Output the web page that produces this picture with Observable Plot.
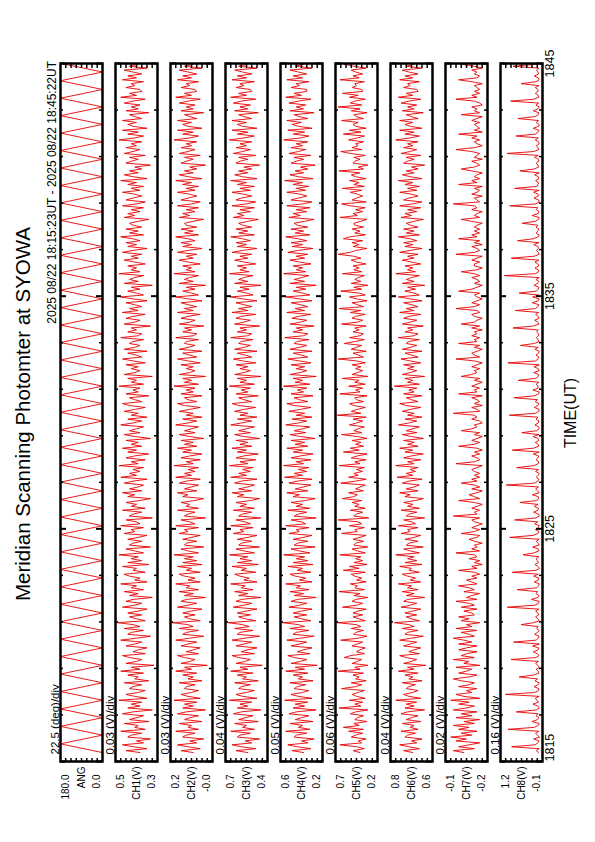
<!DOCTYPE html>
<html><head><meta charset="utf-8">
<script src="https://cdn.jsdelivr.net/npm/d3@7"></script>
<script src="https://cdn.jsdelivr.net/npm/@observablehq/plot@0.6"></script>
<style>
html,body{margin:0;padding:0;background:#fff;width:595px;height:842px;overflow:hidden;}
#land{position:absolute;left:0;top:0;width:842px;height:595px;transform-origin:0 0;transform:translate(0,842px) rotate(-90deg);font-family:"Liberation Sans",Arial,Helvetica,sans-serif;color:#000;}
.lbl{position:absolute;white-space:nowrap;}
</style></head><body><div id="land"></div>
<script>
// ---- data (time in seconds after 18:15:00 UT) ----
const title = "Meridian Scanning Photomter at SYOWA";
const subtitle = "2025 08/22 18:15:23UT - 2025 08/22 18:45:22UT";
const xTitle = "TIME(UT)";
const startSec = 23;        // 18:15:23
const angStep = 22.5;       // s between scan turning points
const chStep = 5;           // s between channel samples
const majorTicks = [0, 600, 1200, 1800];
const tickLabels = ["1815", "1825", "1835", "1845"];
const minorTicks = [120, 240, 360, 480, 720, 840, 960, 1080, 1320, 1440, 1560, 1680];

const names = ["ANG", "CH1(V)", "CH2(V)", "CH3(V)", "CH4(V)", "CH5(V)", "CH6(V)", "CH7(V)", "CH8(V)"];
const divLabels = ["22.5 (deg)/div", "0.03 (V)/div", "0.03 (V)/div", "0.04 (V)/div", "0.05 (V)/div", "0.06 (V)/div", "0.04 (V)/div", "0.02 (V)/div", "0.16 (V)/div"];
const topLabels = ["180.0", "0.5", "0.2", "0.7", "0.6", "0.7", "0.8", "-0.1", "1.2"];
const bottomLabels = ["0.0", "0.3", "-0.0", "0.4", "0.2", "0.2", "0.6", "-0.2", "-0.1"];
const perDiv = [22.5, 0.03, 0.03, 0.04, 0.05, 0.06, 0.04, 0.02, 0.16];
const yMin = [0, 0.27, -0.04, 0.40, 0.20, 0.22, 0.52, -0.23, -0.08];

const ang = [0,180,0,180,0,180,0,180,0,180,0,180,0,180,0,180,0,180,0,180,
0,180,0,180,0,180,0,180,0,180,0,180,0,180,0,180,0,180,0,180,
0,180,0,180,0,180,0,180,0,180,0,180,0,180,0,180,0,180,0,180,
0,180,0,180,0,180,0,180,0,180,0,180,0,180,0,180,0,180,0,180,0];

const ch1 = [.37,.45,.33,.41,.47,.35,.39,.31,.44,.42,.36,.48,.34,.40,.38,.46,.32,.43,
.39,.35,.47,.41,.30,.44,.37,.42,.36,.49,.33,.40,.45,.38,.34,.43,.41,.36,
.46,.32,.40,.38,.44,.35,.48,.37,.42,.29,.45,.39,.36,.43,.47,.34,.41,.38,
.33,.45,.40,.36,.48,.39,.31,.44,.42,.35,.46,.37,.41,.50,.34,.39,.43,.36,
.44,.38,.33,.47,.40,.36,.45,.41,.30,.43,.38,.46,.35,.42,.39,.48,.33,.40,
.37,.43,.46,.34,.41,.39,.47,.32,.44,.36,.42,.38,.49,.35,.40,.45,.31,.43,
.41,.36,.44,.38,.33,.46,.40,.42,.35,.48,.37,.39,.45,.30,.43,.41,.36,.47,
.34,.42,.39,.45,.37,.31,.44,.40,.47,.36,.43,.38,.35,.46,.41,.33,.48,.39,
.43,.37,.41,.35,.49,.38,.42,.34,.45,.40,.32,.44,.39,.47,.36,.42,.38,.45,
.31,.40,.46,.37,.43,.39,.35,.48,.41,.36,.44,.33,.42,.38,.46,.40,.34,.43,
.47,.36,.40,.43,.32,.45,.38,.41,.37,.49,.35,.42,.39,.44,.30,.46,.40,.37,
.42,.38,.45,.34,.41,.47,.36,.39,.44,.33,.46,.40,.37,.43,.41,.35,.48,.38,
.36,.44,.39,.42,.31,.46,.40,.37,.45,.41,.34,.47,.38,.43,.36,.40,.45,.33,
.41,.48,.35,.39,.44,.37,.42,.30,.46,.38,.43,.40,.35,.49,.37,.42,.39,.44,
.34,.40,.46,.38,.42,.36,.47,.41,.33,.44,.39,.45,.37,.41,.48,.35,.43,.38,
.45,.36,.41,.43,.38,.32,.46,.40,.44,.37,.42,.35,.47,.39,.34,.45,.41,.36,
.40,.47,.37,.42,.35,.44,.39,.48,.33,.41,.46,.38,.43,.36,.40,.31,.45,.42,
.38,.43,.34,.46,.41,.37,.45,.39,.42,.36,.49,.40,.35,.44,.38,.47,.33,.41,
.44,.39,.47,.36,.40,.43,.32,.45,.38,.42,.37,.46,.41,.34,.48,.39,.43,.36,
.37,.45,.40,.42,.35,.47,.39,.44,.36,.41,.46,.33,.43,.38,.45,.40,.37,.42];

const ch2 = [.07,.14,.03,.10,.16,.05,.09,.01,.13,.11,.06,.17,.04,.10,.08,.15,.02,.12,
.09,.04,.16,.11,.00,.13,.07,.12,.05,.18,.03,.10,.14,.08,.04,.12,.11,.06,
.15,.02,.10,.07,.13,.05,.17,.08,.12,-.01,.14,.09,.06,.12,.16,.04,.11,.07,
.03,.14,.10,.05,.17,.09,.01,.13,.11,.04,.15,.07,.10,.19,.03,.09,.12,.06,
.13,.08,.02,.16,.10,.05,.14,.11,.00,.12,.07,.15,.04,.11,.09,.17,.03,.10,
.06,.12,.15,.03,.11,.08,.16,.02,.13,.05,.12,.07,.18,.04,.10,.14,.01,.12,
.11,.05,.13,.08,.03,.15,.10,.12,.04,.17,.06,.09,.14,.00,.12,.10,.06,.16,
.04,.11,.09,.14,.06,.01,.13,.10,.16,.05,.12,.08,.04,.15,.11,.03,.17,.08,
.12,.06,.10,.04,.18,.07,.11,.03,.14,.09,.02,.13,.08,.16,.05,.12,.07,.14,
.01,.09,.15,.06,.12,.08,.04,.17,.10,.05,.13,.02,.11,.07,.15,.09,.03,.12,
.16,.05,.10,.12,.02,.14,.07,.11,.06,.18,.04,.12,.08,.13,.00,.15,.09,.06,
.11,.07,.14,.03,.10,.16,.05,.09,.13,.02,.15,.10,.06,.12,.11,.04,.17,.07,
.05,.13,.08,.12,.01,.15,.09,.06,.14,.10,.03,.16,.07,.12,.05,.10,.14,.02,
.10,.17,.04,.08,.13,.06,.11,.00,.15,.07,.12,.09,.04,.18,.06,.11,.08,.13,
.03,.10,.15,.07,.11,.05,.16,.10,.02,.13,.08,.14,.06,.10,.17,.04,.12,.07,
.14,.05,.11,.12,.07,.01,.15,.09,.13,.06,.11,.04,.16,.08,.03,.14,.10,.05,
.09,.16,.06,.11,.04,.13,.08,.17,.02,.10,.15,.07,.12,.05,.09,.00,.14,.11,
.07,.12,.03,.15,.10,.06,.14,.08,.11,.05,.18,.09,.04,.13,.07,.16,.02,.10,
.13,.08,.16,.05,.09,.12,.01,.14,.07,.11,.06,.15,.10,.03,.17,.08,.12,.05,
.06,.14,.09,.11,.04,.16,.08,.13,.05,.10,.15,.02,.12,.07,.14,.09,.06,.11];

const ch3 = [.55,.64,.49,.60,.67,.52,.57,.46,.63,.61,.53,.68,.50,.59,.56,.65,.47,.62,
.57,.51,.66,.60,.45,.63,.55,.61,.52,.69,.48,.59,.64,.56,.50,.62,.60,.53,
.65,.47,.59,.56,.63,.51,.68,.55,.61,.44,.64,.57,.53,.62,.67,.50,.60,.55,
.48,.64,.58,.52,.67,.57,.46,.63,.61,.51,.65,.54,.59,.70,.49,.57,.62,.53,
.63,.56,.48,.66,.58,.52,.64,.60,.45,.62,.55,.65,.51,.60,.57,.68,.48,.58,
.54,.61,.65,.49,.60,.56,.67,.47,.63,.52,.61,.55,.69,.50,.58,.64,.46,.62,
.60,.52,.63,.55,.48,.66,.58,.61,.51,.68,.53,.57,.64,.45,.62,.59,.52,.66,
.50,.61,.56,.64,.53,.46,.63,.58,.67,.52,.62,.55,.50,.65,.60,.48,.68,.56,
.62,.53,.59,.51,.69,.55,.61,.49,.64,.58,.47,.63,.56,.67,.52,.61,.55,.64,
.46,.58,.65,.53,.62,.56,.50,.68,.60,.52,.63,.48,.61,.55,.65,.58,.49,.62,
.67,.52,.58,.62,.47,.64,.55,.60,.53,.69,.50,.61,.56,.63,.45,.65,.58,.53,
.61,.55,.64,.49,.59,.66,.52,.57,.63,.48,.65,.58,.53,.62,.60,.51,.68,.55,
.52,.63,.56,.61,.46,.65,.58,.53,.64,.60,.49,.67,.55,.62,.52,.58,.64,.48,
.59,.68,.51,.56,.63,.54,.61,.45,.65,.55,.62,.58,.51,.69,.54,.61,.56,.63,
.49,.58,.65,.55,.61,.52,.67,.59,.48,.63,.56,.64,.53,.59,.68,.50,.62,.55,
.64,.52,.59,.62,.55,.47,.66,.58,.63,.53,.61,.50,.67,.56,.49,.64,.60,.52,
.58,.67,.53,.61,.50,.63,.56,.68,.48,.59,.65,.55,.62,.52,.58,.46,.64,.61,
.55,.62,.49,.66,.59,.53,.64,.56,.61,.52,.69,.58,.50,.63,.55,.67,.48,.59,
.63,.56,.67,.52,.58,.62,.47,.65,.55,.61,.53,.66,.60,.49,.68,.56,.62,.52,
.53,.64,.58,.61,.50,.67,.56,.63,.52,.59,.65,.48,.62,.55,.64,.58,.53,.61];

const ch4 = [.38,.49,.31,.44,.53,.34,.40,.28,.47,.45,.35,.55,.32,.43,.39,.51,.29,.46,
.40,.33,.52,.45,.26,.48,.37,.46,.34,.56,.30,.43,.50,.39,.33,.47,.44,.36,
.51,.29,.43,.39,.48,.34,.55,.37,.46,.25,.50,.41,.35,.47,.53,.32,.44,.38,
.30,.50,.42,.35,.54,.41,.28,.48,.45,.33,.51,.37,.43,.58,.31,.40,.47,.35,
.48,.40,.30,.52,.42,.35,.50,.44,.26,.47,.38,.51,.33,.45,.41,.55,.30,.42,
.36,.46,.51,.31,.44,.39,.53,.29,.48,.34,.45,.37,.57,.32,.42,.50,.27,.47,
.44,.34,.48,.38,.30,.52,.42,.45,.33,.55,.36,.40,.50,.26,.47,.43,.35,.53,
.32,.45,.39,.50,.36,.27,.48,.42,.54,.34,.46,.38,.31,.52,.44,.30,.56,.39,
.47,.35,.43,.33,.57,.38,.45,.31,.50,.41,.29,.48,.39,.54,.34,.46,.37,.50,
.27,.41,.51,.36,.47,.39,.32,.55,.43,.35,.49,.30,.45,.37,.52,.41,.31,.47,
.54,.34,.42,.47,.29,.50,.38,.44,.35,.57,.32,.46,.39,.48,.26,.51,.41,.35,
.45,.37,.50,.31,.42,.53,.34,.40,.48,.30,.51,.42,.35,.47,.44,.33,.56,.38,
.34,.48,.39,.45,.28,.51,.41,.35,.49,.43,.31,.54,.37,.46,.34,.41,.50,.30,
.42,.55,.32,.39,.48,.36,.45,.26,.51,.37,.47,.40,.33,.57,.36,.45,.39,.48,
.31,.42,.51,.37,.45,.34,.53,.43,.29,.49,.39,.50,.35,.43,.55,.32,.46,.38,
.50,.34,.44,.47,.37,.28,.52,.41,.48,.35,.45,.32,.54,.39,.30,.50,.43,.35,
.41,.54,.36,.45,.33,.48,.39,.56,.29,.43,.51,.38,.46,.34,.41,.27,.50,.45,
.38,.47,.31,.52,.43,.36,.50,.39,.45,.34,.57,.41,.33,.48,.37,.53,.30,.43,
.49,.40,.54,.34,.42,.47,.28,.51,.38,.45,.36,.52,.43,.31,.55,.40,.47,.35,
.35,.50,.42,.45,.33,.54,.39,.48,.35,.43,.51,.30,.46,.38,.50,.42,.36,.45];

const ch5 = [.42,.50,.37,.46,.65,.40,.44,.35,.52,.47,.39,.55,.38,.61,.43,.49,.34,.48,
.45,.38,.53,.47,.33,.66,.41,.48,.39,.54,.36,.46,.51,.44,.37,.63,.47,.40,
.52,.35,.47,.43,.50,.38,.67,.42,.48,.33,.51,.45,.40,.60,.53,.37,.46,.42,
.36,.51,.45,.39,.64,.44,.34,.49,.47,.38,.52,.41,.46,.68,.36,.43,.50,.39,
.50,.44,.35,.62,.46,.39,.51,.47,.33,.49,.42,.66,.37,.48,.45,.53,.35,.46,
.40,.48,.52,.36,.61,.43,.54,.34,.49,.39,.47,.41,.65,.36,.45,.51,.33,.49,
.47,.38,.50,.42,.35,.63,.45,.48,.37,.54,.40,.44,.67,.32,.49,.46,.39,.53,
.36,.48,.43,.51,.40,.62,.49,.45,.55,.38,.47,.42,.36,.64,.47,.35,.55,.44,
.49,.39,.46,.37,.66,.42,.48,.35,.52,.45,.34,.61,.43,.53,.38,.47,.41,.51,
.34,.45,.63,.40,.49,.44,.37,.54,.46,.39,.50,.35,.68,.41,.52,.45,.36,.49,
.54,.38,.46,.48,.34,.65,.42,.47,.39,.55,.36,.48,.43,.62,.33,.51,.45,.39,
.47,.41,.51,.36,.46,.67,.38,.44,.50,.35,.52,.46,.40,.60,.48,.37,.54,.42,
.38,.50,.43,.48,.35,.63,.45,.39,.51,.47,.36,.53,.41,.66,.38,.45,.51,.34,
.46,.54,.36,.43,.64,.40,.49,.33,.52,.41,.48,.44,.37,.62,.40,.49,.43,.50,
.35,.46,.52,.41,.49,.67,.53,.47,.34,.50,.43,.51,.39,.61,.54,.36,.48,.42,
.51,.38,.48,.49,.41,.34,.65,.45,.50,.39,.47,.36,.53,.63,.35,.51,.46,.39,
.45,.53,.40,.62,.37,.49,.43,.54,.35,.47,.52,.42,.66,.38,.44,.33,.50,.48,
.42,.49,.36,.53,.64,.40,.51,.44,.47,.38,.55,.45,.37,.61,.41,.54,.35,.47,
.50,.44,.63,.38,.46,.49,.34,.52,.42,.67,.40,.53,.48,.36,.54,.44,.62,.39,
.40,.51,.46,.48,.37,.65,.43,.50,.39,.47,.52,.35,.49,.60,.51,.46,.41,.48];

const ch6 = [.67,.74,.62,.70,.77,.64,.68,.60,.73,.71,.65,.76,.63,.69,.66,.75,.61,.72,
.68,.63,.76,.71,.58,.73,.66,.72,.64,.80,.61,.70,.74,.67,.63,.72,.70,.65,
.75,.60,.70,.67,.73,.63,.78,.66,.71,.57,.74,.68,.64,.72,.77,.62,.70,.66,
.61,.74,.69,.64,.77,.68,.59,.73,.71,.63,.75,.66,.70,.81,.62,.68,.72,.64,
.73,.67,.61,.76,.69,.64,.74,.71,.58,.72,.66,.75,.63,.71,.68,.78,.61,.69,
.65,.71,.75,.62,.70,.68,.77,.60,.73,.64,.71,.66,.80,.62,.69,.74,.59,.72,
.70,.63,.73,.66,.61,.76,.69,.71,.63,.78,.65,.68,.74,.58,.72,.70,.64,.76,
.62,.71,.67,.74,.65,.59,.73,.69,.77,.63,.72,.66,.62,.75,.70,.60,.79,.67,
.72,.65,.69,.63,.80,.66,.71,.61,.74,.68,.59,.73,.67,.77,.63,.71,.66,.74,
.59,.68,.75,.64,.72,.67,.62,.78,.70,.64,.73,.60,.71,.66,.75,.69,.61,.72,
.77,.63,.68,.72,.60,.74,.66,.70,.64,.81,.62,.71,.67,.73,.58,.75,.69,.64,
.71,.66,.74,.61,.69,.76,.63,.68,.73,.60,.75,.69,.64,.72,.70,.62,.78,.66,
.63,.73,.67,.71,.59,.75,.69,.64,.74,.70,.61,.77,.66,.72,.63,.68,.74,.60,
.69,.78,.62,.66,.73,.65,.71,.58,.75,.66,.72,.68,.62,.80,.65,.71,.67,.73,
.61,.68,.75,.66,.71,.63,.77,.69,.60,.73,.67,.74,.64,.69,.78,.62,.72,.66,
.74,.63,.69,.72,.66,.59,.76,.68,.73,.64,.71,.61,.77,.67,.60,.74,.70,.63,
.68,.77,.64,.71,.62,.73,.67,.78,.60,.69,.75,.66,.72,.63,.68,.58,.74,.71,
.66,.72,.61,.76,.69,.64,.74,.67,.71,.63,.80,.69,.62,.73,.66,.77,.60,.69,
.73,.67,.77,.63,.68,.72,.59,.75,.66,.71,.64,.76,.70,.61,.78,.67,.72,.63,
.64,.74,.69,.71,.62,.77,.67,.73,.63,.70,.75,.60,.72,.66,.74,.69,.64,.71];

const ch7 = [-.14,-.10,-.18,-.12,-.16,-.20,-.11,-.15,-.09,-.17,-.13,-.19,-.12,-.16,-.10,-.18,-.14,-.20,
-.11,-.17,-.13,-.19,-.10,-.15,-.18,-.12,-.16,-.09,-.20,-.14,-.11,-.17,-.15,-.19,-.12,-.16,
-.18,-.13,-.10,-.16,-.19,-.12,-.15,-.17,-.11,-.20,-.14,-.16,-.10,-.18,-.13,-.15,-.19,-.12,
-.15,-.19,-.12,-.17,-.14,-.10,-.18,-.16,-.13,-.19,-.11,-.17,-.15,-.20,-.13,-.16,-.12,-.18,
-.17,-.14,-.19,-.13,-.18,-.16,-.11,-.19,-.15,-.17,-.20,-.14,-.18,-.16,-.12,-.19,-.17,-.15,
-.19,-.17,-.20,-.18,-.12,-.19,-.17,-.21,-.18,-.20,-.16,-.19,-.18,-.11,-.20,-.17,-.19,-.18,
-.21,-.18,-.16,-.19,-.20,-.13,-.18,-.20,-.17,-.19,-.21,-.18,-.17,-.20,-.10,-.19,-.18,-.20,
-.17,-.19,-.21,-.18,-.12,-.20,-.18,-.16,-.19,-.21,-.17,-.20,-.18,-.13,-.19,-.17,-.20,-.18,
-.20,-.18,-.17,-.19,-.21,-.11,-.18,-.20,-.19,-.17,-.20,-.18,-.21,-.19,-.12,-.18,-.20,-.17,
-.19,-.21,-.18,-.20,-.13,-.17,-.19,-.18,-.21,-.20,-.17,-.19,-.18,-.10,-.20,-.19,-.17,-.21,
-.18,-.20,-.19,-.17,-.21,-.12,-.19,-.18,-.20,-.17,-.19,-.21,-.18,-.20,-.13,-.17,-.19,-.18,
-.20,-.17,-.19,-.21,-.18,-.11,-.20,-.18,-.17,-.19,-.21,-.18,-.20,-.12,-.19,-.18,-.20,-.17,
-.19,-.18,-.21,-.17,-.20,-.13,-.18,-.19,-.21,-.18,-.17,-.20,-.19,-.11,-.18,-.20,-.17,-.19,
-.21,-.19,-.18,-.20,-.12,-.17,-.19,-.21,-.18,-.20,-.19,-.17,-.20,-.18,-.13,-.19,-.21,-.18,
-.18,-.20,-.17,-.19,-.21,-.11,-.18,-.20,-.19,-.17,-.21,-.18,-.20,-.12,-.19,-.17,-.20,-.18,
-.20,-.18,-.19,-.21,-.17,-.13,-.20,-.18,-.19,-.21,-.17,-.19,-.18,-.10,-.20,-.19,-.18,-.21,
-.17,-.19,-.20,-.18,-.21,-.12,-.19,-.17,-.20,-.18,-.19,-.21,-.17,-.13,-.18,-.20,-.19,-.17,
-.21,-.18,-.19,-.20,-.17,-.11,-.18,-.21,-.19,-.18,-.20,-.17,-.19,-.12,-.21,-.18,-.20,-.19,
-.18,-.20,-.17,-.19,-.21,-.13,-.20,-.18,-.19,-.17,-.21,-.20,-.18,-.11,-.19,-.17,-.20,-.18,
-.20,-.19,-.18,-.21,-.17,-.12,-.19,-.20,-.18,-.19,-.17,-.21,-.18,-.13,-.20,-.18,-.19,-.17];

const ch8 = [.04,.11,.02,.86,.15,.06,.03,.19,.01,.08,.13,.03,.97,.17,.05,.02,.24,.07,
.03,.12,.05,.72,.10,.02,.06,.21,.04,.09,.14,.02,1.05,.16,.04,.03,.18,.06,
.02,.15,.07,.63,.19,.03,.05,.11,.01,.06,.13,.04,.88,.12,.03,.07,.20,.05,
.04,.22,.02,.80,.11,.05,.03,.16,.07,.02,.10,.05,.57,.19,.02,.06,.13,.04,
.06,.13,.03,.99,.15,.04,.02,.26,.06,.03,.12,.07,.69,.10,.04,.02,.17,.05,
.03,.19,.05,.84,.12,.01,.06,.15,.04,.08,.11,.03,.51,.18,.03,.05,.22,.02,
.05,.11,.02,.92,.21,.06,.03,.14,.05,.02,.16,.06,.77,.12,.02,.04,.19,.06,
.04,.17,.06,.61,.09,.03,.05,.23,.02,.07,.13,.04,1.02,.15,.06,.03,.11,.05,
.02,.13,.04,.71,.18,.05,.03,.12,.06,.04,.20,.02,.84,.19,.04,.05,.14,.03,
.06,.20,.03,.55,.10,.02,.04,.15,.05,.03,.12,.06,.93,.13,.03,.02,.17,.06,
.03,.14,.07,.78,.16,.04,.02,.21,.05,.06,.11,.03,.66,.12,.05,.04,.19,.02,
.05,.18,.02,.97,.13,.06,.03,.12,.04,.02,.15,.05,.59,.17,.02,.06,.10,.04,
.04,.10,.05,.82,.20,.03,.06,.16,.02,.05,.13,.04,.74,.14,.06,.03,.23,.05,
.02,.22,.04,.63,.11,.05,.03,.18,.07,.03,.12,.02,1.08,.13,.04,.05,.15,.03,
.06,.15,.03,.87,.17,.02,.05,.10,.04,.06,.19,.03,.68,.20,.05,.02,.12,.06,
.03,.12,.06,.54,.14,.04,.02,.24,.05,.03,.11,.06,.92,.12,.02,.04,.18,.05,
.05,.19,.02,.77,.09,.06,.04,.13,.03,.05,.16,.02,.61,.17,.04,.06,.11,.03,
.04,.16,.05,1.00,.18,.03,.06,.11,.02,.04,.14,.05,.73,.13,.06,.03,.20,.04,
.02,.11,.04,.67,.15,.05,.03,.20,.06,.02,.12,.04,.89,.18,.03,.05,.14,.06,
.06,.14,.03,.57,.12,.02,.05,.17,.04,.06,.10,.03,.82,.11,.05,.02,.16,.04];

const series = [ang, ch1, ch2, ch3, ch4, ch5, ch6, ch7, ch8];
const steps = [angStep, chStep, chStep, chStep, chStep, chStep, chStep, chStep, chStep];

// ---- layout (landscape page, rotated onto the portrait sheet) ----
const land = document.getElementById("land");
const FONT = '"Liberation Sans", Arial, Helvetica, sans-serif';
const W = 842, ML = 80, MR = 64, PH = 42, MT = 16, MB = 20, P0 = 60, GAP = 55;
const FW = W - ML - MR;

function addLabel(text, css) {
  const d = document.createElement("div");
  d.className = "lbl";
  d.textContent = text;
  Object.assign(d.style, css);
  land.appendChild(d);
}
addLabel(title, {left: "178px", width: "500px", textAlign: "center", top: "12px", fontSize: "20.5px", lineHeight: "21px"});
addLabel(subtitle, {right: (W - 781) + "px", top: "46px", fontSize: "12px", lineHeight: "12px"});
addLabel(xTitle, {left: "329px", width: "200px", textAlign: "center", top: "562px", fontSize: "16px", lineHeight: "17px"});

series.forEach((vals, i) => {
  const data = vals.map((v, k) => ({t: startSec + k * steps[i], v}));
  const dom = [yMin[i], yMin[i] + 8 * perDiv[i]];
  const divs = [1, 2, 3, 4, 5, 6, 7].map(k => yMin[i] + k * perDiv[i]);
  const marks = [
    Plot.line(data, {x: "t", y: "v", stroke: "#e60000", strokeWidth: 0.9, clip: true}),
    Plot.tickX(minorTicks, {x: d => d, insetTop: PH - 3, stroke: "black", strokeWidth: 1.5}),
    Plot.tickX(minorTicks, {x: d => d, insetBottom: PH - 3, stroke: "black", strokeWidth: 1.5}),
    Plot.tickX(majorTicks, {x: d => d, insetTop: PH - 6, stroke: "black", strokeWidth: 2}),
    Plot.tickX(majorTicks, {x: d => d, insetBottom: PH - 6, stroke: "black", strokeWidth: 2}),
    Plot.tickY(divs, {y: d => d, insetRight: FW - 4, stroke: "black", strokeWidth: 1.5}),
    Plot.tickY(divs, {y: d => d, insetLeft: FW - 4, stroke: "black", strokeWidth: 1.5}),
    Plot.frame({stroke: "black", strokeWidth: 2.5}),
    Plot.text([divLabels[i]], {text: d => d, frameAnchor: "top-left", textAnchor: "start", lineAnchor: "bottom", dx: 7, dy: -2, fontSize: 11.5}),
    Plot.text([topLabels[i]], {text: d => d, frameAnchor: "top-left", textAnchor: "end", lineAnchor: "top", dx: -13, dy: 1, fontSize: 10}),
    Plot.text([names[i]], {text: d => d, frameAnchor: "left", textAnchor: "end", lineAnchor: "middle", dx: -5, fontSize: 10}),
    Plot.text([bottomLabels[i]], {text: d => d, frameAnchor: "bottom-left", textAnchor: "end", lineAnchor: "bottom", dx: -13, dy: -3, fontSize: 10})
  ];
  if (i === series.length - 1) {
    marks.push(Plot.text(majorTicks.slice(0, 1), {x: d => d, text: tickLabels.slice(0, 1), frameAnchor: "bottom", textAnchor: "start", lineAnchor: "top", dy: 3, fontSize: 12.5}));
    marks.push(Plot.text(majorTicks.slice(1), {x: d => d, text: tickLabels.slice(1), frameAnchor: "bottom", textAnchor: "middle", lineAnchor: "top", dy: 3, fontSize: 12.5}));
  }
  const svg = Plot.plot({
    width: W, height: PH + MT + MB,
    marginLeft: ML, marginRight: MR, marginTop: MT, marginBottom: MB,
    x: {domain: [0, 1800], axis: null},
    y: {domain: dom, axis: null},
    style: {background: "transparent", overflow: "visible", fontFamily: FONT, color: "black"},
    marks
  });
  svg.style.position = "absolute";
  svg.style.left = "0px";
  svg.style.top = (P0 + GAP * i - MT) + "px";
  svg.style.maxWidth = "none";
  land.appendChild(svg);
});
</script></body></html>
